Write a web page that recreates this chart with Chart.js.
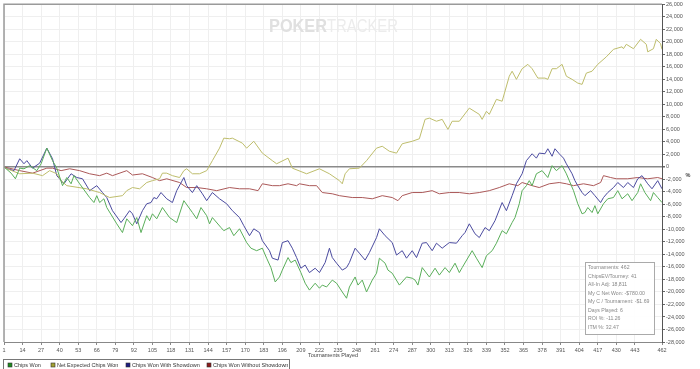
<!DOCTYPE html>
<html>
<head>
<meta charset="utf-8">
<script src="https://cdn.jsdelivr.net/npm/chart.js@4/dist/chart.umd.min.js"></script>
<style>
  html, body { margin: 0; padding: 0; background: #fff; }
  #wrap { width: 700px; height: 369px; }
</style>
</head>
<body>
<div id="wrap"><canvas id="chart" width="700" height="369"></canvas></div>
<script>
// x tick labels (tournament numbers)
const xTicks = [1, 14, 27, 40, 53, 66, 79, 92, 105, 118, 131, 144, 157, 170, 183, 196, 209, 222, 235, 248,
  261, 274, 287, 300, 313, 326, 339, 352, 365, 378, 391, 404, 417, 430, 443, 462];

// Chips Won
const chipsWonT = [1, 2, 6, 9, 12, 15, 19, 24, 27, 31, 35, 38, 42, 45, 48, 50, 54, 61, 64, 66, 68, 71, 73, 80, 84,
  87, 91, 94, 97, 101, 103, 105, 108, 112, 117, 122, 127, 133, 136, 139, 143, 145, 147, 153, 155, 159, 162, 166,
  171, 174, 178, 182, 185, 188, 191, 194, 196, 200, 202, 205, 209, 212, 215, 219, 222, 224, 227, 231, 234, 238,
  241, 243, 247, 249, 252, 255, 259, 262, 264, 268, 270, 273, 278, 283, 287, 289, 291, 294, 299, 303, 306, 310,
  313, 317, 320, 322, 329, 332, 336, 339, 343, 346, 350, 353, 357, 359, 362, 364, 367, 369, 371, 374, 378, 382,
  385, 388, 392, 395, 400, 403, 406, 408, 410, 413, 415, 417, 421, 424, 428, 431, 434, 438, 441, 445, 447, 450,
  454, 456, 459, 462];
const chipsWonV = [0, -200, -1000, -1900, -200, -300, 200, -600, 500, 3000, 1000, -200, -3000, -1700, -2700, -1400,
  -2700, -4900, -5700, -4600, -5700, -5100, -6500, -9100, -10500, -8300, -9400, -8100, -10500, -7800, -8600, -7500,
  -8300, -6500, -8100, -8900, -5400, -7300, -8300, -6500, -7800, -9100, -8100, -9700, -10200, -9700, -11000, -9900,
  -12100, -13000, -13400, -13000, -14600, -16100, -18400, -17600, -16500, -14500, -15300, -14900, -16900, -18600,
  -19700, -18600, -19400, -18900, -19200, -18100, -18600, -20000, -21000, -19200, -17600, -18900, -18100, -20000,
  -18100, -17000, -14600, -15400, -16500, -17000, -18900, -17600, -17800, -18100, -18900, -16100, -17600, -16200,
  -17300, -16100, -16900, -15400, -16900, -16100, -13400, -14600, -16100, -14200, -13400, -12200, -10200, -10700,
  -8900, -8100, -5900, -3800, -3000, -2200, -3000, -1100, -600, -1700, 200, -600, 200, -1100, -3800, -5900, -7500,
  -7300, -6500, -7300, -6200, -7500, -5900, -5100, -4900, -3800, -5100, -4300, -5400, -4100, -2700, -4100, -5400,
  -4100, -4900, -5700];

// Net Expected Chips Won
const netExpT = [1, 2, 12, 21, 28, 33, 38, 41, 45, 59, 68, 75, 84, 87, 91, 96, 101, 105, 110, 112, 115, 119, 124,
  127, 129, 133, 138, 143, 147, 152, 155, 159, 161, 168, 171, 176, 182, 189, 192, 200, 203, 213, 222, 229, 236,
  238, 240, 243, 250, 255, 262, 266, 271, 276, 280, 287, 292, 296, 299, 304, 308, 312, 315, 320, 327, 334, 336,
  339, 341, 346, 350, 355, 357, 360, 364, 368, 371, 375, 380, 382, 385, 388, 392, 395, 399, 403, 406, 409, 413,
  417, 423, 428, 434, 435, 437, 442, 447, 451, 452, 456, 458, 461, 462];
const netExpV = [0, -200, -1100, -1000, -1400, -600, -1100, -2200, -3000, -3500, -4100, -4900, -4600, -3800, -3300,
  -3500, -2500, -2200, -1900, -1000, -1000, -1400, -1700, -600, -300, -1100, -1100, -600, 1000, 3000, 4600, 4500,
  4600, 3800, 3000, 4100, 2200, 1000, 500, 1400, -200, -1100, -300, -1100, -2200, -2700, -1100, -300, -200, 1000,
  3000, 3300, 2500, 2200, 3700, 4100, 4500, 7600, 7800, 7300, 7600, 6000, 7300, 7300, 9400, 8400, 7600, 8900,
  8400, 10800, 10500, 14500, 15300, 14000, 15700, 16400, 15700, 14200, 14200, 14000, 15700, 15700, 16400, 14500,
  14000, 13400, 13200, 15000, 15300, 16400, 17600, 18800, 19200, 18900, 19600, 18900, 20400, 19600, 18400, 18900,
  20400, 19700, 18800];

// Chips Won With Showdown
const showdownT = [1, 2, 8, 12, 15, 17, 21, 26, 31, 35, 38, 43, 48, 52, 56, 61, 66, 70, 73, 77, 83, 85, 89, 91, 94,
  98, 101, 104, 106, 108, 111, 115, 119, 122, 127, 129, 133, 136, 140, 143, 147, 152, 157, 161, 166, 169, 173, 176,
  180, 182, 187, 189, 193, 196, 200, 203, 206, 209, 212, 215, 219, 222, 226, 229, 231, 234, 238, 241, 243, 247,
  250, 254, 257, 262, 264, 268, 273, 276, 280, 283, 287, 290, 294, 297, 301, 304, 308, 313, 318, 322, 324, 327,
  331, 334, 338, 341, 345, 350, 353, 357, 360, 364, 367, 371, 374, 376, 380, 382, 385, 387, 390, 393, 395, 399,
  401, 403, 406, 408, 412, 415, 419, 421, 424, 428, 431, 435, 438, 442, 445, 448, 452, 455, 459, 462];
const showdownV = [0, -200, -600, 1300, 500, 1000, -200, 600, 3000, 1300, -1400, -2700, -1100, -1700, -1900, -3800,
  -3000, -4100, -4900, -7000, -8900, -8300, -7000, -7500, -9100, -7000, -5900, -5700, -4900, -5100, -4100, -5100,
  -5700, -3800, -1700, -3000, -4100, -3000, -4300, -5400, -4100, -5100, -5900, -7000, -8100, -9400, -11000, -9900,
  -10500, -11800, -13400, -14600, -14900, -12100, -11800, -13000, -14500, -16200, -15700, -16900, -16200, -16900,
  -15300, -13000, -14500, -15400, -16500, -16100, -15300, -13000, -13800, -14900, -13700, -11300, -9900, -11000,
  -12100, -14100, -13400, -14600, -13400, -14500, -12200, -12100, -13400, -12200, -13000, -12100, -12200, -11000,
  -10500, -9100, -10700, -11300, -9700, -10200, -8600, -5700, -7000, -4600, -2700, -1100, 1000, 2100, 1400, 2200,
  2100, 2900, 1700, 2900, 2100, 1400, 500, -1100, -2200, -3000, -4100, -4600, -3800, -4600, -5700, -4900, -4100,
  -3300, -2500, -3300, -2500, -3300, -1900, -1400, -2700, -3500, -2200, -3500];

// Chips Won Without Showdown
const noShowdownT = [1, 12, 21, 31, 35, 41, 47, 54, 61, 68, 73, 77, 87, 91, 98, 105, 110, 115, 124, 129, 136, 143,
  150, 159, 166, 173, 179, 182, 189, 194, 200, 206, 208, 215, 220, 224, 231, 236, 245, 252, 259, 266, 273, 277,
  280, 287, 294, 301, 306, 313, 320, 327, 334, 341, 348, 355, 361, 364, 371, 376, 383, 390, 395, 400, 407, 414,
  419, 421, 426, 430, 438, 445, 452, 459, 462];
const noShowdownV = [0, -600, -1000, -200, -200, -600, -300, -600, -1100, -1400, -1000, -1400, -600, -1300, -1100,
  -1700, -2200, -1900, -2500, -3300, -3300, -3500, -3800, -3300, -3500, -3500, -3800, -2700, -3000, -3000, -2700,
  -3000, -2700, -3000, -3000, -4100, -4300, -4600, -4900, -4900, -5100, -4600, -4900, -5400, -4600, -4100, -4100,
  -3800, -4300, -4100, -4100, -4300, -4100, -3800, -3300, -2700, -3000, -2500, -3000, -3300, -2700, -2500, -2700,
  -3000, -2700, -3000, -2500, -1400, -1700, -1900, -1900, -1700, -1900, -1700, -1900];

const seriesNames = ['Chips Won', 'Net Expected Chips Won', 'Chips Won With Showdown', 'Chips Won Without Showdown'];

const statLines = ['Tournaments: 462', 'ChipsEV/Tourney: 41', 'All-In Adj: 18,811', 'My C Net Won: -$780.00',
  'My C / Tournament: -$1.69', 'Days Played: 6', 'ROI %: -11.26', 'ITM %: 32.47'];

const FONT = '5.5px "Liberation Sans", Arial, sans-serif';

function pts(ts, vs) {
  return ts.map((t, i) => ({ x: t, y: vs[i] }));
}

function line(label, ts, vs, color, swatch) {
  return {
    label: label,
    data: pts(ts, vs),
    borderColor: color,
    backgroundColor: swatch,
    borderWidth: 1,
    pointRadius: 0,
    tension: 0
  };
}

const decor = {
  id: 'decor',
  beforeDraw(chart) {
    const ctx = chart.ctx;
    ctx.save();
    ctx.fillStyle = '#fff';
    ctx.fillRect(0, 0, chart.width, chart.height);
    ctx.restore();
  },
  beforeDatasetsDraw(chart) {
    // watermark
    const ctx = chart.ctx;
    ctx.save();
    ctx.textBaseline = 'alphabetic';
    ctx.font = 'bold 18px "Liberation Sans", Arial, sans-serif';
    let w = ctx.measureText('POKER').width;
    ctx.setTransform(58 / w, 0, 0, 1, 269, 32);
    ctx.fillStyle = '#e0e0e0';
    ctx.fillText('POKER', 0, 0);
    ctx.setTransform(1, 0, 0, 1, 0, 0);
    ctx.font = '18px "Liberation Sans", Arial, sans-serif';
    w = ctx.measureText('TRACKER').width;
    ctx.setTransform(71 / w, 0, 0, 1, 327, 32);
    ctx.fillStyle = '#ececec';
    ctx.fillText('TRACKER', 0, 0);
    ctx.restore();
  },
  afterDatasetsDraw(chart) {
    const ctx = chart.ctx;
    const a = chart.chartArea;
    ctx.save();

    // plot frame (top / left)
    ctx.strokeStyle = '#9a9a9a';
    ctx.lineWidth = 1.5;
    ctx.beginPath();
    ctx.moveTo(a.left, a.bottom);
    ctx.lineTo(a.left, a.top);
    ctx.lineTo(a.right, a.top);
    ctx.stroke();

    // stats box
    ctx.fillStyle = 'rgba(255,255,255,0.9)';
    ctx.fillRect(585.5, 262.5, 69, 72);
    ctx.strokeStyle = '#aaa';
    ctx.lineWidth = 1;
    ctx.strokeRect(585.5, 262.5, 69, 72);
    ctx.font = '5.2px "Liberation Sans", Arial, sans-serif';
    ctx.fillStyle = '#888';
    ctx.textBaseline = 'middle';
    ctx.textAlign = 'left';
    statLines.forEach((s, i) => ctx.fillText(s, 588, 268 + i * 8.5));

    // axis titles
    ctx.font = FONT;
    ctx.fillStyle = '#444';
    ctx.textAlign = 'center';
    ctx.fillText('Tournaments Played', (a.left + a.right) / 2, 355);
    ctx.font = 'bold 5.5px "Liberation Sans", Arial, sans-serif';
    ctx.fillText('%', 688, 175);

    // legend
    ctx.font = FONT;
    ctx.textAlign = 'left';
    ctx.strokeStyle = '#777';
    ctx.strokeRect(3.5, 359.5, 286, 14);
    const xs = [8, 51, 126, 207];
    chart.data.datasets.forEach((ds, i) => {
      ctx.fillStyle = ds.backgroundColor;
      ctx.fillRect(xs[i], 363, 4, 4);
      ctx.strokeStyle = '#333';
      ctx.lineWidth = 0.6;
      ctx.strokeRect(xs[i], 363, 4, 4);
      ctx.fillStyle = '#333';
      ctx.fillText(ds.label, xs[i] + 6, 365.5);
    });
    ctx.restore();
  }
};

new Chart(document.getElementById('chart'), {
  type: 'line',
  data: {
    datasets: [
      line(seriesNames[0], chipsWonT, chipsWonV, '#5aae5a', '#1f8a1f'),
      line(seriesNames[1], netExpT, netExpV, '#bebd6c', '#a3a232'),
      line(seriesNames[2], showdownT, showdownV, '#4b4b9f', '#1c1c82'),
      line(seriesNames[3], noShowdownT, noShowdownV, '#ab5959', '#8c1c1c')
    ]
  },
  options: {
    responsive: false,
    animation: false,
    layout: { padding: { left: 4, top: 3, right: 0, bottom: 0 } },
    plugins: {
      legend: { display: false },
      tooltip: { enabled: false }
    },
    scales: {
      x: {
        type: 'linear',
        min: 1,
        max: 462,
        afterBuildTicks(scale) {
          scale.ticks = xTicks.map(v => ({ value: v }));
        },
        afterFit(scale) {
          scale.height = 27;
        },
        ticks: {
          autoSkip: false,
          maxRotation: 0,
          padding: 2,
          color: '#555',
          font: { size: 5.5, family: '"Liberation Sans", Arial, sans-serif' },
          callback: v => String(v)
        },
        grid: { color: '#efefef', tickColor: '#888', tickLength: 3 },
        border: { color: '#888', width: 1 }
      },
      y: {
        position: 'right',
        min: -28000,
        max: 26000,
        afterFit(scale) {
          scale.width = 38;
        },
        ticks: {
          stepSize: 2000,
          padding: 1,
          color: '#555',
          font: { size: 5.5, family: '"Liberation Sans", Arial, sans-serif' },
          callback: v => v.toLocaleString('en-US')
        },
        grid: {
          color: c => (c.tick && c.tick.value === 0 ? '#8a8a8a' : '#efefef'),
          lineWidth: c => (c.tick && c.tick.value === 0 ? 1.5 : 1),
          tickColor: '#666',
          tickLength: 3
        },
        border: { color: '#555', width: 1 }
      }
    }
  },
  plugins: [decor]
});
</script>
</body>
</html>
